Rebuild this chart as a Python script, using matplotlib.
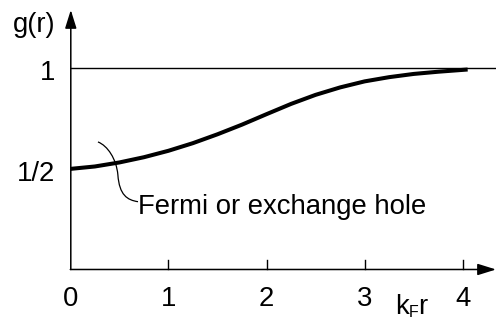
import matplotlib
matplotlib.use("Agg")
import matplotlib.pyplot as plt
from matplotlib.path import Path
from matplotlib.patches import PathPatch

plt.rcParams['font.family'] = ['Liberation Sans', 'DejaVu Sans']

# Pair correlation of the free electron gas (same spin): exchange hole
kf_r = [0.0, 0.25, 0.5, 0.75, 1.0, 1.25, 1.5, 1.75, 2.0, 2.25, 2.5, 2.75, 3.0, 3.25, 3.5, 3.75, 4.05]
g_r = [0.5, 0.512, 0.532, 0.558, 0.59, 0.628, 0.672, 0.72, 0.772, 0.823, 0.868, 0.905, 0.935, 0.956, 0.972, 0.983, 0.994]

x_ticks = [1, 2, 3, 4]
x_tick_labels = ['0', '1', '2', '3', '4']
y_tick_values = [1.0, 0.5]
y_tick_labels = ['1', '1/2']

# leader line from the curve to its caption (cubic Bezier, data units)
leader_pts = [(0.282, 0.634), (0.38, 0.615), (0.47, 0.55), (0.485, 0.47),
              (0.50, 0.37), (0.58, 0.345), (0.69, 0.337)]

fig = plt.figure(figsize=(4.96, 3.22), dpi=100)
ax = fig.add_axes([0, 0, 1, 1])
ax.set_xlim(-0.7166, 4.339)
ax.set_ylim(-0.261, 1.3395)
ax.axis('off')

fs = 19.8

# axes with arrow heads
ax.annotate('', xy=(4.339, 0), xytext=(0, 0),
            arrowprops=dict(arrowstyle='-|>,head_length=0.8,head_width=0.25',
                            mutation_scale=14, lw=1.1, color='black',
                            shrinkA=0, shrinkB=0))
ax.annotate('', xy=(0.005, 1.29), xytext=(0.005, 0),
            arrowprops=dict(arrowstyle='-|>,head_length=0.8,head_width=0.25',
                            mutation_scale=14, lw=1.1, color='black',
                            shrinkA=0, shrinkB=0))

# reference level g = 1
ax.plot([0, 4.339], [1.0, 1.0], color='black', lw=1.0, solid_capstyle='butt')

# x ticks
for t in x_ticks:
    ax.plot([t, t], [0, 0.045], color='black', lw=1.0)
for i, lab in enumerate(x_tick_labels):
    ax.text(i, -0.183, lab, ha='center', va='baseline', fontsize=fs)

for v, lab in zip(y_tick_values, y_tick_labels):
    ax.text(-0.155, v - 0.058, lab, ha='right', va='baseline', fontsize=fs)

ax.text(-0.155, 1.18, 'g(r)', ha='right', va='baseline', fontsize=fs)

# axis label k_F r, built from pieces so the subscript sits low
ax.text(3.31, -0.221, 'k', ha='left', va='baseline', fontsize=fs)
ax.text(3.445, -0.238, 'F', ha='left', va='baseline', fontsize=11.5)
ax.text(3.545, -0.221, 'r', ha='left', va='baseline', fontsize=fs)

# the curve
ax.plot(kf_r, g_r, color='black', lw=2.9, solid_capstyle='butt')

# caption and leader
codes = [Path.MOVETO, Path.CURVE4, Path.CURVE4, Path.CURVE4,
         Path.CURVE4, Path.CURVE4, Path.CURVE4]
ax.add_patch(PathPatch(Path(leader_pts, codes), fill=False, lw=0.9, edgecolor='black'))
ax.text(0.69, 0.276, 'Fermi or exchange hole', ha='left', va='baseline', fontsize=fs)

fig.savefig('out.png', dpi=100)
